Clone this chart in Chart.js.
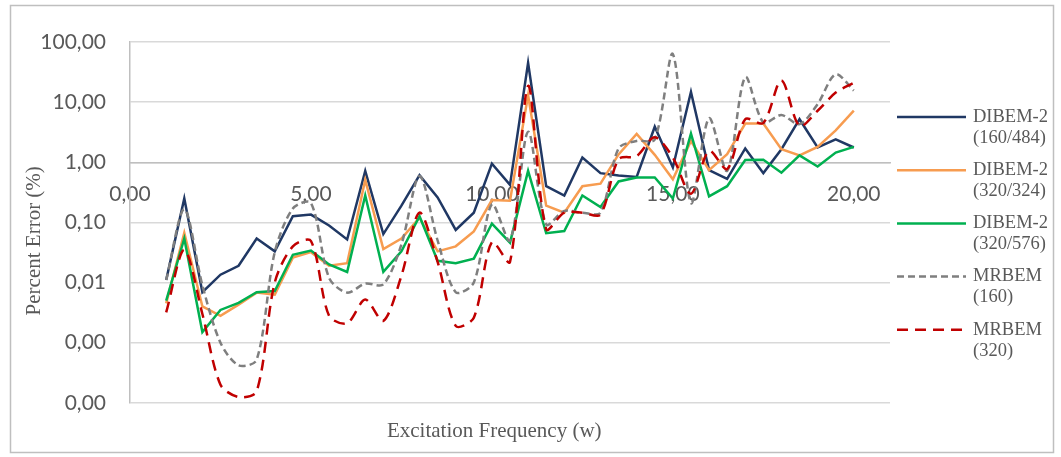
<!DOCTYPE html>
<html>
<head>
<meta charset="utf-8">
<script src="https://cdn.jsdelivr.net/npm/chart.js@4"></script>
<style>
  html, body { margin: 0; padding: 0; background: #fff; }
</style>
</head>
<body>
<canvas id="myChart" width="1061" height="457"></canvas>
<script>
// excitation frequency (x)
const freq = [1, 1.5, 2, 2.5, 3, 3.5, 4, 4.5, 5, 5.5, 6, 6.5, 7, 7.5, 8, 8.5, 9, 9.5, 10, 10.5,
  11, 11.5, 12, 12.5, 13, 13.5, 14, 14.5, 15, 15.5, 16, 16.5, 17, 17.5, 18, 18.5, 19, 19.5, 20];

// percent error per series
const dibem160_484 = [0.011, 0.25, 0.0069, 0.0135, 0.019, 0.054, 0.033, 0.127, 0.135, 0.089,
  0.052, 0.72, 0.064, 0.19, 0.61, 0.26, 0.075, 0.145, 0.95, 0.42,
  45, 0.40, 0.28, 1.2, 0.66, 0.6, 0.57, 3.9, 0.82, 14.8,
  0.74, 0.53, 1.7, 0.66, 1.65, 5.2, 1.76, 2.4, 1.76];
const dibem320_324 = [0.0045, 0.067, 0.004, 0.0028, 0.0043, 0.0068, 0.0063, 0.026, 0.032, 0.019,
  0.021, 0.51, 0.036, 0.054, 0.12, 0.033, 0.04, 0.071, 0.235, 0.23,
  13, 0.19, 0.145, 0.40, 0.44, 1.35, 2.95, 1.33, 0.52, 2.26,
  0.74, 1.36, 4.4, 4.4, 1.65, 1.3, 1.8, 3.4, 7.2];
const dibem320_576 = [0.005, 0.054, 0.0015, 0.0035, 0.0046, 0.0069, 0.0072, 0.029, 0.034, 0.02,
  0.015, 0.28, 0.015, 0.033, 0.127, 0.023, 0.021, 0.025, 0.095, 0.046,
  0.72, 0.066, 0.072, 0.28, 0.18, 0.48, 0.56, 0.56, 0.25, 3.0,
  0.27, 0.40, 1.09, 1.1, 0.67, 1.3, 0.85, 1.45, 1.8];
const mrbem160 = [0.011, 0.165, 0.009, 0.001, 0.00042, 0.00052, 0.032, 0.17, 0.21, 0.012,
  0.0068, 0.0096, 0.0093, 0.043, 0.59, 0.05, 0.0069, 0.01, 0.2, 0.05,
  3.2, 0.093, 0.155, 0.145, 0.145, 1.7, 2.26, 2.4, 63, 0.21,
  5.4, 0.72, 26, 4.6, 6.1, 4.3, 9.3, 29, 15.6];
const mrbem320 = [0.0032, 0.035, 0.003, 0.0002, 0.000125, 0.000155, 0.01, 0.04, 0.049, 0.0028,
  0.0021, 0.0052, 0.0023, 0.013, 0.145, 0.022, 0.0019, 0.0026, 0.047, 0.022,
  18.6, 0.077, 0.145, 0.145, 0.135, 1.12, 1.27, 2.6, 1.2, 0.3,
  1.55, 0.77, 5.2, 4.5, 23, 4.0, 7.2, 14.4, 21];

const seriesNames = [
  ['DIBEM-2', '(160/484)'],
  ['DIBEM-2', '(320/324)'],
  ['DIBEM-2', '(320/576)'],
  ['MRBEM', '(160)'],
  ['MRBEM', '(320)']
];

const yTicks = [0.0001, 0.001, 0.01, 0.1, 1, 10, 100];
const xTicks = [0, 5, 10, 15, 20];

const nb = '\u00a0';
const textGray = '#595959';

function pts(arr) {
  return freq.map((x, i) => ({ x: x, y: arr[i] }));
}

function fmt(v) {
  return Number(v).toFixed(2).replace('.', ',');
}

// frame around the whole chart
const frame = {
  id: 'frame',
  beforeDraw(chart) {
    const c = chart.ctx;
    c.save();
    c.fillStyle = '#fff';
    c.fillRect(0, 0, chart.width, chart.height);
    c.strokeStyle = '#bfbfbf';
    c.lineWidth = 1.5;
    c.strokeRect(10.5, 5.5, 1043, 447);
    c.restore();
  }
};

// legend with two-line labels
const sideLegend = {
  id: 'sideLegend',
  afterDraw(chart) {
    const c = chart.ctx;
    c.save();
    chart.data.datasets.forEach((ds, i) => {
      const y = 117 + i * 53.2;
      c.beginPath();
      c.strokeStyle = ds.borderColor;
      c.lineWidth = ds.borderWidth;
      c.setLineDash(ds.borderDash || []);
      c.moveTo(897, y);
      c.lineTo(966, y);
      c.stroke();
      c.setLineDash([]);
      c.fillStyle = textGray;
      c.font = '18.5px "Liberation Serif"';
      c.textBaseline = 'middle';
      c.textAlign = 'left';
      seriesNames[i].forEach((t, j) => c.fillText(t, 973, y + j * 21));
    });
    c.restore();
  }
};

const ctx = document.getElementById('myChart');

new Chart(ctx, {
  type: 'line',
  data: {
    datasets: [
      { label: seriesNames[0].join(' '), data: pts(dibem160_484), borderColor: '#203864', borderWidth: 2.5, order: 5, tension: 0 },
      { label: seriesNames[1].join(' '), data: pts(dibem320_324), borderColor: '#F79C50', borderWidth: 2.5, order: 4, tension: 0 },
      { label: seriesNames[2].join(' '), data: pts(dibem320_576), borderColor: '#00B050', borderWidth: 2.5, order: 3, tension: 0 },
      { label: seriesNames[3].join(' '), data: pts(mrbem160), borderColor: '#7F7F7F', borderWidth: 2.5, borderDash: [7, 4], order: 2, tension: 0.3 },
      { label: seriesNames[4].join(' '), data: pts(mrbem320), borderColor: '#C00000', borderWidth: 2.5, borderDash: [11, 7], order: 1, tension: 0.3 }
    ]
  },
  options: {
    responsive: false,
    animation: false,
    elements: { point: { radius: 0 } },
    layout: { padding: { left: 14, right: 171, top: 42, bottom: 0 } },
    plugins: {
      legend: { display: false },
      tooltip: { enabled: false },
      title: {
        display: true,
        position: 'bottom',
        fullSize: false,
        text: 'Excitation Frequency (w)' + nb.repeat(6),
        color: textGray,
        font: { family: 'Liberation Serif', size: 21, weight: 'normal', lineHeight: 1.2 },
        padding: { top: 16, bottom: 13 }
      }
    },
    scales: {
      x: {
        type: 'linear',
        min: 0,
        max: 21,
        position: { y: 1 },
        afterBuildTicks: (s) => { s.ticks = xTicks.map(v => ({ value: v })); },
        grid: { display: true, color: 'rgba(0,0,0,0)', drawTicks: false },
        border: { display: true, color: '#bfbfbf', width: 1.5 },
        ticks: {
          padding: 19,
          maxRotation: 0,
          autoSkip: false,
          color: textGray,
          font: { family: 'Lato', size: 21 },
          callback: (v) => fmt(v)
        }
      },
      y: {
        type: 'logarithmic',
        min: 0.0001,
        max: 100,
        afterBuildTicks: (s) => { s.ticks = yTicks.map(v => ({ value: v })); },
        afterFit: (s) => { s.width = 116; },
        grid: { color: '#d9d9d9', lineWidth: 1.5, drawTicks: false },
        border: { display: true, color: '#bfbfbf', width: 1.5 },
        ticks: {
          padding: 24,
          autoSkip: false,
          color: textGray,
          font: { family: 'Lato', size: 21 },
          callback: (v) => fmt(v)
        },
        title: {
          display: true,
          text: 'Percent Error (%)' + nb.repeat(7),
          color: textGray,
          font: { family: 'Liberation Serif', size: 21, lineHeight: 1.2 },
          padding: { top: 8, bottom: 0 }
        }
      }
    }
  },
  plugins: [frame, sideLegend]
});
</script>
</body>
</html>
